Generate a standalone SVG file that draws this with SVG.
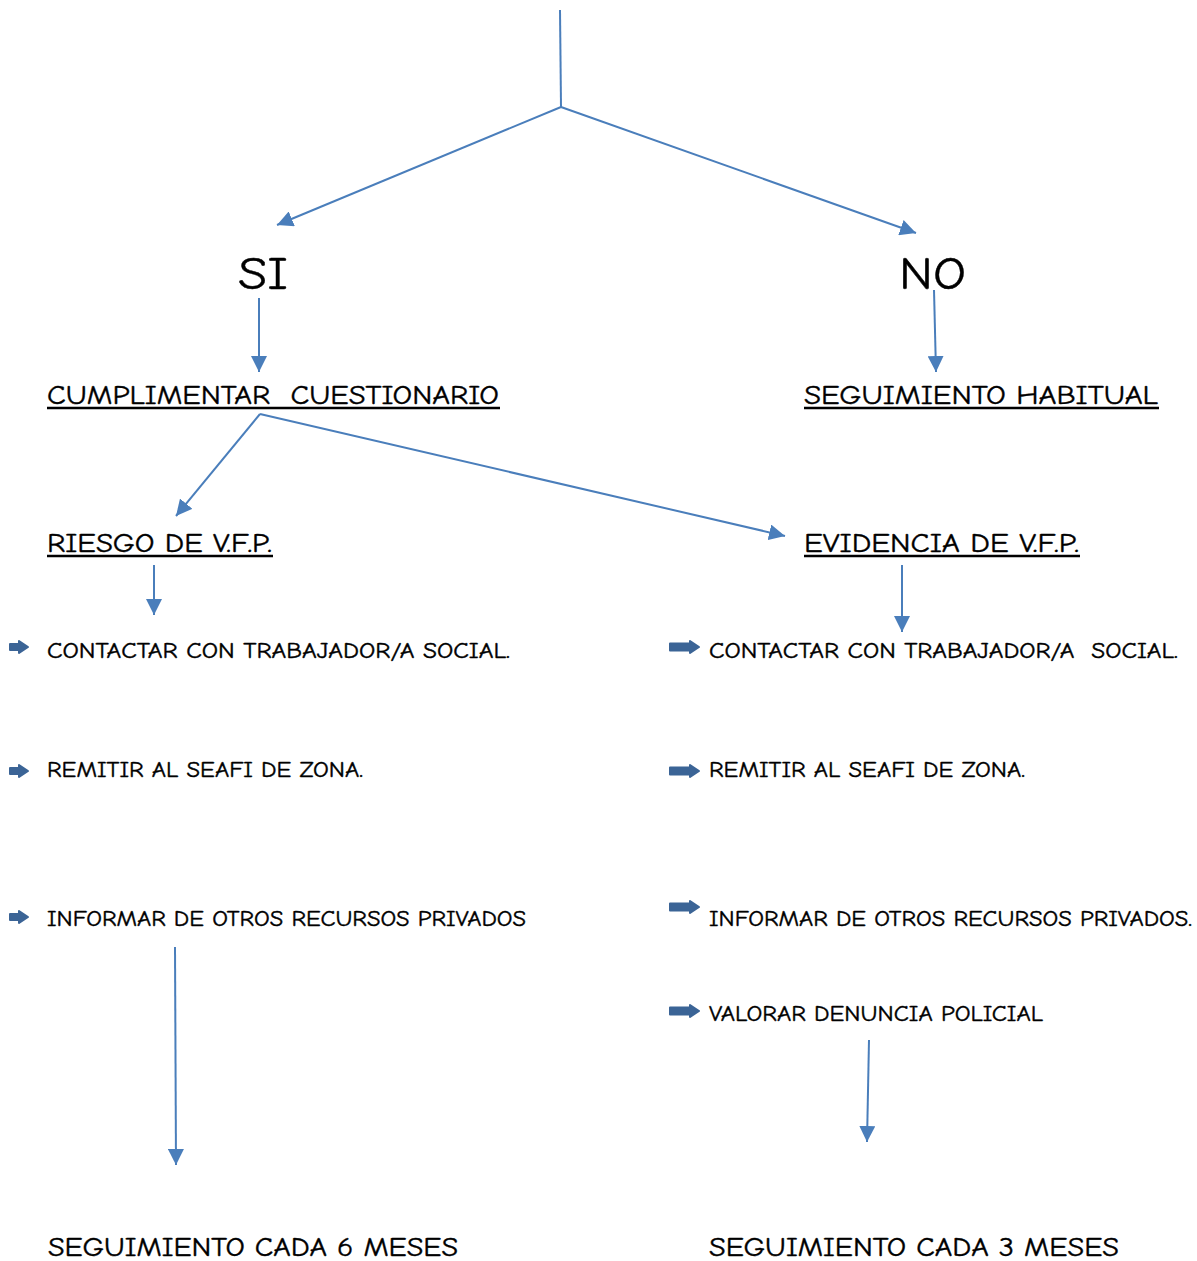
<svg xmlns="http://www.w3.org/2000/svg" width="1197" height="1261" viewBox="0 0 1197 1261">
<defs>
<style>
.t{font-family:"Comic Sans MS","Comic Neue","DejaVu Sans","Liberation Sans",sans-serif;fill:#000;stroke:#000;stroke-width:0.4;}
.c{stroke:#4a7ebb;stroke-width:2;fill:none;}
.b{fill:#3b6496;stroke:#3b6496;stroke-width:2;stroke-linejoin:round;}
.u{stroke:#000;stroke-width:2.5;}
</style>
<marker id="ah" markerUnits="userSpaceOnUse" markerWidth="18" markerHeight="16" refX="16" refY="8" orient="auto" viewBox="0 0 18 16">
<path d="M0,0 L16,8 L0,16 Z" fill="#4a7ebb"/>
</marker>
<path id="bs" d="M1,-3 H10 V-6 L19,0 L10,6 V3 H1 Z"/>
<path id="bl" d="M1,-3.5 H21 V-6 L30,0 L21,6 V3.5 H1 Z"/>
</defs>
<rect width="1197" height="1261" fill="#fff"/>
<g id="connectors">
<line class="c" x1="560" y1="10" x2="561" y2="107"/>
<line class="c" x1="561" y1="107" x2="277" y2="225" marker-end="url(#ah)"/>
<line class="c" x1="561" y1="107" x2="916" y2="233" marker-end="url(#ah)"/>
<line class="c" x1="259" y1="298" x2="259" y2="372" marker-end="url(#ah)"/>
<line class="c" x1="934" y1="290" x2="936" y2="372" marker-end="url(#ah)"/>
<line class="c" x1="260" y1="414" x2="176" y2="516" marker-end="url(#ah)"/>
<line class="c" x1="260" y1="414" x2="785" y2="536" marker-end="url(#ah)"/>
<line class="c" x1="154" y1="565" x2="154" y2="615" marker-end="url(#ah)"/>
<line class="c" x1="902" y1="565" x2="902" y2="632" marker-end="url(#ah)"/>
<line class="c" x1="175" y1="947" x2="176" y2="1165" marker-end="url(#ah)"/>
<line class="c" x1="869" y1="1040" x2="867" y2="1142" marker-end="url(#ah)"/>
</g>
<g id="si"><text class="t" x="238" y="289" font-size="46" textLength="50" lengthAdjust="spacingAndGlyphs">SI</text></g>
<g id="no"><text class="t" x="899" y="289" font-size="46" textLength="67" lengthAdjust="spacingAndGlyphs">NO</text></g>
<g id="cuestionario">
<text class="t" x="47" y="404" font-size="27" textLength="452" lengthAdjust="spacingAndGlyphs" xml:space="preserve">CUMPLIMENTAR  CUESTIONARIO</text>
<line class="u" x1="47" y1="408" x2="500" y2="408"/>
</g>
<g id="seguimiento-habitual">
<text class="t" x="804" y="404" font-size="27" textLength="354" lengthAdjust="spacingAndGlyphs">SEGUIMIENTO HABITUAL</text>
<line class="u" x1="804" y1="408" x2="1159" y2="408"/>
</g>
<g id="riesgo">
<text class="t" x="47" y="552" font-size="27" textLength="225" lengthAdjust="spacingAndGlyphs">RIESGO DE V.F.P.</text>
<line class="u" x1="47" y1="556" x2="273" y2="556"/>
</g>
<g id="evidencia">
<text class="t" x="804" y="552" font-size="27" textLength="275" lengthAdjust="spacingAndGlyphs">EVIDENCIA DE V.F.P.</text>
<line class="u" x1="804" y1="556" x2="1080" y2="556"/>
</g>
<g id="riesgo-acciones">
<use href="#bs" class="b" x="9" y="647"/>
<text class="t" x="47" y="658" font-size="22" textLength="463" lengthAdjust="spacingAndGlyphs">CONTACTAR CON TRABAJADOR/A SOCIAL.</text>
<use href="#bs" class="b" x="9" y="771"/>
<text class="t" x="47" y="777" font-size="22" textLength="316" lengthAdjust="spacingAndGlyphs">REMITIR AL SEAFI DE ZONA.</text>
<use href="#bs" class="b" x="9" y="917"/>
<text class="t" x="47" y="926" font-size="22" textLength="479" lengthAdjust="spacingAndGlyphs">INFORMAR DE OTROS RECURSOS PRIVADOS</text>
</g>
<g id="evidencia-acciones">
<use href="#bl" class="b" x="669" y="647"/>
<text class="t" x="709" y="658" font-size="22" textLength="469" lengthAdjust="spacingAndGlyphs" xml:space="preserve">CONTACTAR CON TRABAJADOR/A  SOCIAL.</text>
<use href="#bl" class="b" x="669" y="771"/>
<text class="t" x="709" y="777" font-size="22" textLength="316" lengthAdjust="spacingAndGlyphs">REMITIR AL SEAFI DE ZONA.</text>
<use href="#bl" class="b" x="669" y="907"/>
<text class="t" x="709" y="926" font-size="22" textLength="483" lengthAdjust="spacingAndGlyphs">INFORMAR DE OTROS RECURSOS PRIVADOS.</text>
<use href="#bl" class="b" x="669" y="1011"/>
<text class="t" x="709" y="1021" font-size="22" textLength="334" lengthAdjust="spacingAndGlyphs">VALORAR DENUNCIA POLICIAL</text>
</g>
<g id="seguimiento-6"><text class="t" x="48" y="1256" font-size="26" textLength="410" lengthAdjust="spacingAndGlyphs">SEGUIMIENTO CADA 6 MESES</text></g>
<g id="seguimiento-3"><text class="t" x="709" y="1256" font-size="26" textLength="410" lengthAdjust="spacingAndGlyphs">SEGUIMIENTO CADA 3 MESES</text></g>
</svg>
